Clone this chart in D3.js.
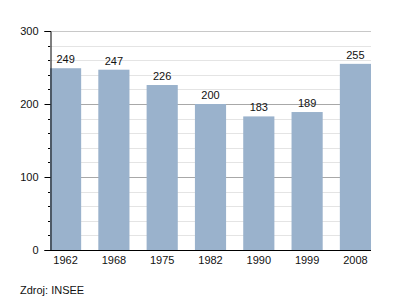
<!DOCTYPE html>
<html><head><meta charset="utf-8">
<script src="https://cdn.jsdelivr.net/npm/d3@7"></script>
<style>body{margin:0;background:#fff}svg{display:block}text{font-family:"Liberation Sans",Arial,sans-serif;fill:#111}</style>
</head><body><svg id="c" width="400" height="300"></svg>
<script>
const categories = ["1962","1968","1975","1982","1990","1999","2008"];
const values = [249,247,226,200,183,189,255];
const yTicks = [0,100,200,300];
const minorTicks = d3.range(0,301,20);
const source = "Zdroj: INSEE";

const svg = d3.select("#c");
const m = {l:50, r:29, t:31, b:50};
const W = 400, H = 300;
const x = d3.scaleBand().domain(categories).range([m.l, W-m.r]).paddingInner(0.355).paddingOuter(0);
const y = d3.scaleLinear().domain([0,300]).range([H-m.b, m.t]);

// minor grid
svg.append("g").selectAll("line").data(minorTicks.filter(d=>d%100!==0)).join("line")
 .attr("x1",m.l).attr("x2",W-m.r).attr("y1",d=>Math.round(y(d))+0.5).attr("y2",d=>Math.round(y(d))+0.5)
 .attr("stroke","#e4e4e4").attr("stroke-width",1);
// major grid
svg.append("g").selectAll("line").data(yTicks.filter(d=>d>0)).join("line")
 .attr("x1",m.l).attr("x2",W-m.r).attr("y1",d=>Math.round(y(d))+0.5).attr("y2",d=>Math.round(y(d))+0.5)
 .attr("stroke",d=>d===300?"#c8c8c8":"#a8a8a8").attr("stroke-width",1);

// bars
svg.append("g").selectAll("rect").data(values).join("rect")
 .attr("x",(d,i)=>x(categories[i])).attr("width",x.bandwidth())
 .attr("y",d=>y(d)).attr("height",d=>y(0)-y(d)).attr("fill","#9ab2cc");

// value labels
svg.append("g").selectAll("text").data(values).join("text")
 .attr("x",(d,i)=>x(categories[i])+x.bandwidth()/2).attr("y",d=>y(d)-5)
 .attr("text-anchor","middle").attr("font-size",11).text(d=>d);

// y axis
const ya = svg.append("g").attr("transform",`translate(${m.l+0.5},0)`)
 .call(d3.axisLeft(y).tickValues(yTicks).tickSize(6).tickPadding(6));
ya.select(".domain").attr("stroke","#000");
ya.selectAll(".tick line").attr("stroke","#000");
ya.selectAll("text").attr("font-size",11).attr("font-family","Liberation Sans, Arial, sans-serif").attr("fill","#111");
svg.append("g").selectAll("line").data(minorTicks.filter(d=>d%100!==0)).join("line")
 .attr("x1",m.l-2).attr("x2",m.l).attr("y1",d=>Math.round(y(d))+0.5).attr("y2",d=>Math.round(y(d))+0.5)
 .attr("stroke","#000");

// x axis
const xa = svg.append("g").attr("transform",`translate(0,${H-m.b+0.5})`)
 .call(d3.axisBottom(x).tickSize(0).tickPadding(6));
xa.select(".domain").attr("stroke","#000").attr("d",`M${m.l-5},0H${W-m.r}`);
xa.selectAll("text").attr("font-size",11).attr("font-family","Liberation Sans, Arial, sans-serif").attr("fill","#111");

svg.append("text").attr("x",20).attr("y",294).attr("font-size",11).text(source);
</script></body></html>
